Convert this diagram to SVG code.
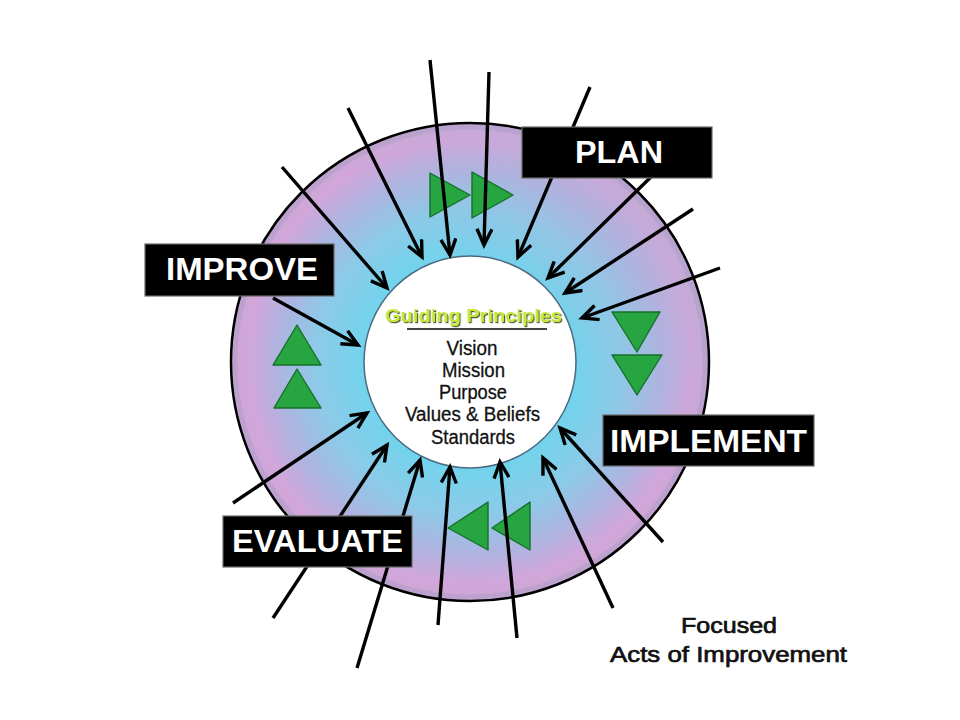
<svg xmlns="http://www.w3.org/2000/svg" width="960" height="720" viewBox="0 0 960 720">
<defs>
  <radialGradient id="ringGrad" gradientUnits="userSpaceOnUse" cx="470" cy="362" r="239">
    <stop offset="0" stop-color="#74d3ec"/>
    <stop offset="0.46" stop-color="#74d3ec"/>
    <stop offset="0.64" stop-color="#8ccae8"/>
    <stop offset="0.8" stop-color="#aeb4e0"/>
    <stop offset="0.93" stop-color="#d2a6da"/>
    <stop offset="1" stop-color="#cba8d4"/>
  </radialGradient>
  <linearGradient id="tint" gradientUnits="userSpaceOnUse" x1="680" y1="150" x2="400" y2="450">
    <stop offset="0" stop-color="#b0b0d6" stop-opacity="0.5"/>
    <stop offset="0.6" stop-color="#b0b0d6" stop-opacity="0"/>
  </linearGradient>
  <marker id="ah" markerUnits="userSpaceOnUse" markerWidth="22" markerHeight="18" viewBox="0 0 22 18" refX="18" refY="9" orient="auto">
    <path d="M2,1.5 L18,9 L2,16.5" fill="none" stroke="#000" stroke-width="3.4"/>
  </marker>
  <filter id="gshadow" x="-10%" y="-30%" width="120%" height="160%">
    <feDropShadow dx="1.2" dy="1.2" stdDeviation="0.4" flood-color="#3c4818" flood-opacity="0.9"/>
  </filter>
  <style>
    .lbl rect { fill: #000; stroke: #6a6a6a; stroke-width: 1.2; }
    .lbl text { font-family: "Liberation Sans", Arial, sans-serif; font-weight: bold; font-size: 32px; fill: #fff; text-anchor: middle; }
    .tri { fill: #27a540; stroke: #15702a; stroke-width: 1.4; stroke-linejoin: round; }
    .list { font-family: "Liberation Sans", Arial, sans-serif; font-size: 20px; fill: #111; text-anchor: middle; stroke: #111; stroke-width: 0.3; }
    .arrows line { stroke: #000; stroke-width: 3.4; marker-end: url(#ah); }
    .foot { font-family: "Liberation Sans", Arial, sans-serif; font-size: 22px; fill: #111; stroke: #111; stroke-width: 0.7; text-anchor: middle; }
  </style>
</defs>
<rect x="0" y="0" width="960" height="720" fill="#fff"/>

<g id="ring">
  <circle cx="470" cy="362" r="239" fill="url(#ringGrad)"/>
  <circle cx="470" cy="362" r="239" fill="url(#tint)"/>
  <circle cx="470" cy="362" r="235" fill="none" stroke="#a99cc6" stroke-width="5" opacity="0.45"/>
  <circle cx="470" cy="362" r="239" fill="none" stroke="#000" stroke-width="2.5"/>
</g>

<g id="cycle-triangles">
  <polygon class="tri" points="430,173 430,217 470,195"/>
  <polygon class="tri" points="472,172 472,218 513,195"/>
  <polygon class="tri" points="612,312 660,312 637,352"/>
  <polygon class="tri" points="612,355 662,355 637,395"/>
  <polygon class="tri" points="448,528 488,502 488,550"/>
  <polygon class="tri" points="492,528 530,502 530,550"/>
  <polygon class="tri" points="297,325 273,365 321,365"/>
  <polygon class="tri" points="297,369 274,408 321,408"/>
</g>

<g id="guiding-principles">
  <circle cx="470" cy="362" r="106" fill="#fff" stroke="#4a6a80" stroke-width="1.5"/>
  <text x="473.5" y="322" font-family="'Liberation Sans', Arial, sans-serif" font-weight="bold" font-size="19" fill="#c6e83a" text-anchor="middle" textLength="177" lengthAdjust="spacingAndGlyphs" filter="url(#gshadow)">Guiding Principles</text>
  <line x1="407" y1="329" x2="547" y2="329" stroke="#444" stroke-width="2"/>
  <text class="list" x="472" y="355" textLength="51" lengthAdjust="spacingAndGlyphs">Vision</text>
  <text class="list" x="473.5" y="377" textLength="63" lengthAdjust="spacingAndGlyphs">Mission</text>
  <text class="list" x="473" y="399" textLength="68" lengthAdjust="spacingAndGlyphs">Purpose</text>
  <text class="list" x="472.5" y="421" textLength="135" lengthAdjust="spacingAndGlyphs">Values &amp; Beliefs</text>
  <text class="list" x="473" y="444" textLength="84" lengthAdjust="spacingAndGlyphs">Standards</text>
</g>

<g id="connectors" class="arrows">
  <line x1="282" y1="167" x2="387" y2="288"/>
  <line x1="348" y1="108" x2="422" y2="257"/>
  <line x1="430" y1="60" x2="450" y2="255"/>
  <line x1="489" y1="72" x2="484" y2="245"/>
  <line x1="590" y1="87" x2="518" y2="257"/>
  <line x1="655" y1="173" x2="548" y2="278"/>
  <line x1="693" y1="209" x2="565" y2="293"/>
  <line x1="720" y1="268" x2="582" y2="318"/>
  <line x1="273" y1="298" x2="358" y2="345"/>
  <line x1="233" y1="503" x2="367" y2="413"/>
  <line x1="273" y1="618" x2="387" y2="445"/>
  <line x1="357" y1="668" x2="420" y2="460"/>
  <line x1="438" y1="625" x2="450" y2="467"/>
  <line x1="517" y1="638" x2="500" y2="462"/>
  <line x1="613" y1="608" x2="543" y2="458"/>
  <line x1="663" y1="542" x2="560" y2="428"/>
</g>

<g id="plan" class="lbl">
  <rect x="522" y="127" width="190" height="51"/>
  <text x="619" y="163" textLength="88" lengthAdjust="spacingAndGlyphs">PLAN</text>
</g>
<g id="improve" class="lbl">
  <rect x="145" y="244" width="189" height="52"/>
  <text x="242" y="280" textLength="152" lengthAdjust="spacingAndGlyphs">IMPROVE</text>
</g>
<g id="implement" class="lbl">
  <rect x="603" y="415" width="211" height="51"/>
  <text x="708.5" y="452" textLength="197" lengthAdjust="spacingAndGlyphs">IMPLEMENT</text>
</g>
<g id="evaluate" class="lbl">
  <rect x="223" y="516" width="189" height="51"/>
  <text x="317.5" y="552" textLength="171" lengthAdjust="spacingAndGlyphs">EVALUATE</text>
</g>

<g id="focused-acts">
  <text class="foot" x="729" y="633" textLength="96" lengthAdjust="spacingAndGlyphs">Focused</text>
  <text class="foot" x="728.5" y="662" textLength="237" lengthAdjust="spacingAndGlyphs">Acts of Improvement</text>
</g>
</svg>
